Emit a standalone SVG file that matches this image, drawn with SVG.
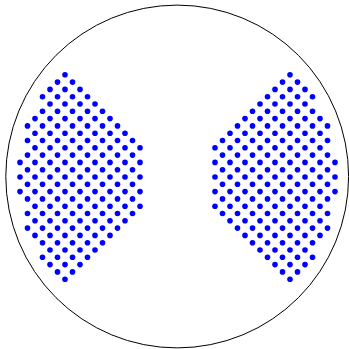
<svg xmlns="http://www.w3.org/2000/svg" xmlns:xlink="http://www.w3.org/1999/xlink" width="349" height="349" viewBox="0 0 349 349">
<style>
.d{fill:#0000ff;}
.rim{fill:none;stroke:#000;stroke-width:1;}
</style>
<defs>
<g id="half">
<circle class="d" cx="65" cy="74.8" r="2.8"/>
<circle class="d" cx="72.5" cy="82.1" r="2.8"/><circle class="d" cx="57.5" cy="82.1" r="2.8"/>
<circle class="d" cx="80" cy="89.4" r="2.8"/><circle class="d" cx="65" cy="89.4" r="2.8"/><circle class="d" cx="50" cy="89.4" r="2.8"/>
<circle class="d" cx="87.5" cy="96.7" r="2.8"/><circle class="d" cx="72.5" cy="96.7" r="2.8"/><circle class="d" cx="57.5" cy="96.7" r="2.8"/><circle class="d" cx="42.5" cy="96.7" r="2.8"/>
<circle class="d" cx="95" cy="104" r="2.8"/><circle class="d" cx="80" cy="104" r="2.8"/><circle class="d" cx="65" cy="104" r="2.8"/><circle class="d" cx="50" cy="104" r="2.8"/>
<circle class="d" cx="102.5" cy="111.3" r="2.8"/><circle class="d" cx="87.5" cy="111.3" r="2.8"/><circle class="d" cx="72.5" cy="111.3" r="2.8"/><circle class="d" cx="57.5" cy="111.3" r="2.8"/><circle class="d" cx="42.5" cy="111.3" r="2.8"/>
<circle class="d" cx="110" cy="118.6" r="2.8"/><circle class="d" cx="95" cy="118.6" r="2.8"/><circle class="d" cx="80" cy="118.6" r="2.8"/><circle class="d" cx="65" cy="118.6" r="2.8"/><circle class="d" cx="50" cy="118.6" r="2.8"/><circle class="d" cx="35" cy="118.6" r="2.8"/>
<circle class="d" cx="117.5" cy="125.9" r="2.8"/><circle class="d" cx="102.5" cy="125.9" r="2.8"/><circle class="d" cx="87.5" cy="125.9" r="2.8"/><circle class="d" cx="72.5" cy="125.9" r="2.8"/><circle class="d" cx="57.5" cy="125.9" r="2.8"/><circle class="d" cx="42.5" cy="125.9" r="2.8"/><circle class="d" cx="27.5" cy="125.9" r="2.8"/>
<circle class="d" cx="125" cy="133.2" r="2.8"/><circle class="d" cx="110" cy="133.2" r="2.8"/><circle class="d" cx="95" cy="133.2" r="2.8"/><circle class="d" cx="80" cy="133.2" r="2.8"/><circle class="d" cx="65" cy="133.2" r="2.8"/><circle class="d" cx="50" cy="133.2" r="2.8"/><circle class="d" cx="35" cy="133.2" r="2.8"/>
<circle class="d" cx="132.5" cy="140.5" r="2.8"/><circle class="d" cx="117.5" cy="140.5" r="2.8"/><circle class="d" cx="102.5" cy="140.5" r="2.8"/><circle class="d" cx="87.5" cy="140.5" r="2.8"/><circle class="d" cx="72.5" cy="140.5" r="2.8"/><circle class="d" cx="57.5" cy="140.5" r="2.8"/><circle class="d" cx="42.5" cy="140.5" r="2.8"/><circle class="d" cx="27.5" cy="140.5" r="2.8"/>
<circle class="d" cx="140" cy="147.8" r="2.8"/><circle class="d" cx="125" cy="147.8" r="2.8"/><circle class="d" cx="110" cy="147.8" r="2.8"/><circle class="d" cx="95" cy="147.8" r="2.8"/><circle class="d" cx="80" cy="147.8" r="2.8"/><circle class="d" cx="65" cy="147.8" r="2.8"/><circle class="d" cx="50" cy="147.8" r="2.8"/><circle class="d" cx="35" cy="147.8" r="2.8"/>
<circle class="d" cx="132.5" cy="155.1" r="2.8"/><circle class="d" cx="117.5" cy="155.1" r="2.8"/><circle class="d" cx="102.5" cy="155.1" r="2.8"/><circle class="d" cx="87.5" cy="155.1" r="2.8"/><circle class="d" cx="72.5" cy="155.1" r="2.8"/><circle class="d" cx="57.5" cy="155.1" r="2.8"/><circle class="d" cx="42.5" cy="155.1" r="2.8"/><circle class="d" cx="27.5" cy="155.1" r="2.8"/>
<circle class="d" cx="140" cy="162.4" r="2.8"/><circle class="d" cx="125" cy="162.4" r="2.8"/><circle class="d" cx="110" cy="162.4" r="2.8"/><circle class="d" cx="95" cy="162.4" r="2.8"/><circle class="d" cx="80" cy="162.4" r="2.8"/><circle class="d" cx="65" cy="162.4" r="2.8"/><circle class="d" cx="50" cy="162.4" r="2.8"/><circle class="d" cx="35" cy="162.4" r="2.8"/><circle class="d" cx="20" cy="162.4" r="2.8"/>
<circle class="d" cx="132.5" cy="169.7" r="2.8"/><circle class="d" cx="117.5" cy="169.7" r="2.8"/><circle class="d" cx="102.5" cy="169.7" r="2.8"/><circle class="d" cx="87.5" cy="169.7" r="2.8"/><circle class="d" cx="72.5" cy="169.7" r="2.8"/><circle class="d" cx="57.5" cy="169.7" r="2.8"/><circle class="d" cx="42.5" cy="169.7" r="2.8"/><circle class="d" cx="27.5" cy="169.7" r="2.8"/>
</g>
<g id="cluster">
<use xlink:href="#half" href="#half"/>
<use xlink:href="#half" href="#half" transform="translate(0,354) scale(1,-1)"/>
<circle class="d" cx="140" cy="177" r="2.8"/><circle class="d" cx="125" cy="177" r="2.8"/><circle class="d" cx="110" cy="177" r="2.8"/><circle class="d" cx="95" cy="177" r="2.8"/><circle class="d" cx="80" cy="177" r="2.8"/><circle class="d" cx="65" cy="177" r="2.8"/><circle class="d" cx="50" cy="177" r="2.8"/><circle class="d" cx="35" cy="177" r="2.8"/><circle class="d" cx="20" cy="177" r="2.8"/>
</g>
</defs>
<rect width="349" height="349" fill="#fff"/>
<circle id="plate" class="rim" cx="177.2" cy="176.5" r="171.4"/>
<g id="left-cluster"><use xlink:href="#cluster" href="#cluster"/></g>
<g id="right-cluster"><use xlink:href="#cluster" href="#cluster" transform="translate(355,0) scale(-1,1)"/></g>
</svg>
